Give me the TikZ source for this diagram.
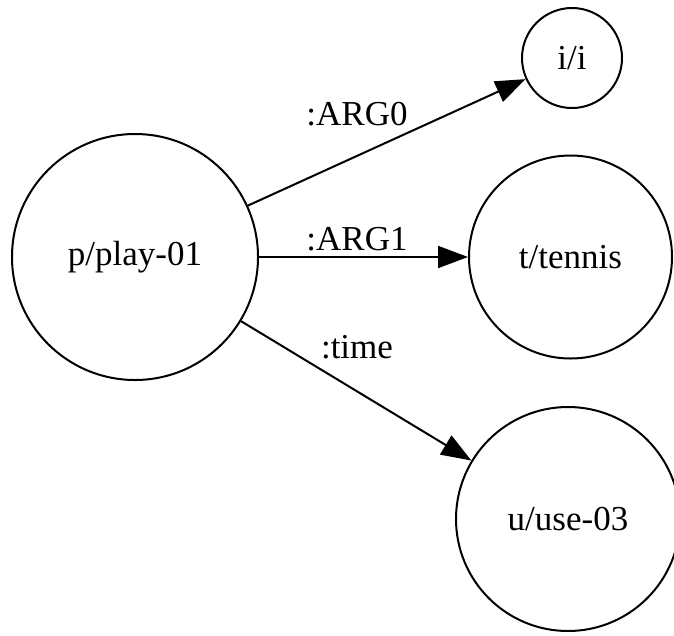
\documentclass[tikz,border=0pt]{standalone}
\usepackage{fontspec}
\setmainfont{Liberation Serif}
\usetikzlibrary{arrows.meta}
\begin{document}
\begin{tikzpicture}[x=1pt,y=-1pt,
  amrnode/.style={circle,draw,line width=2pt,inner sep=0pt,font=\fontsize{35}{40}\selectfont},
  edgelabel/.style={anchor=base,inner sep=0pt,font=\fontsize{35}{40}\selectfont},
  amredge/.style={line width=2pt,-{Triangle[length=30pt,width=22pt]}}]
\useasboundingbox (0,0) rectangle (674,635);
\node[amrnode,minimum size=246pt] (p) at (135,257) {p/play-01};
\node[amrnode,minimum size=100pt] (i) at (572,58) {i/i};
\node[amrnode,minimum size=203pt] (t) at (570.5,257) {t/tennis};
\node[amrnode,minimum size=224pt] (u) at (568,519) {u/use-03};
\draw[amredge] (p) -- (i);
\draw[amredge] (p) -- (t);
\draw[amredge] (p) -- (u);
\node[edgelabel] (l0) at (357,125) {:ARG0};
\node[edgelabel] (l1) at (357,250) {:ARG1};
\node[edgelabel] (l2) at (357,358) {:time};
\end{tikzpicture}
\end{document}
